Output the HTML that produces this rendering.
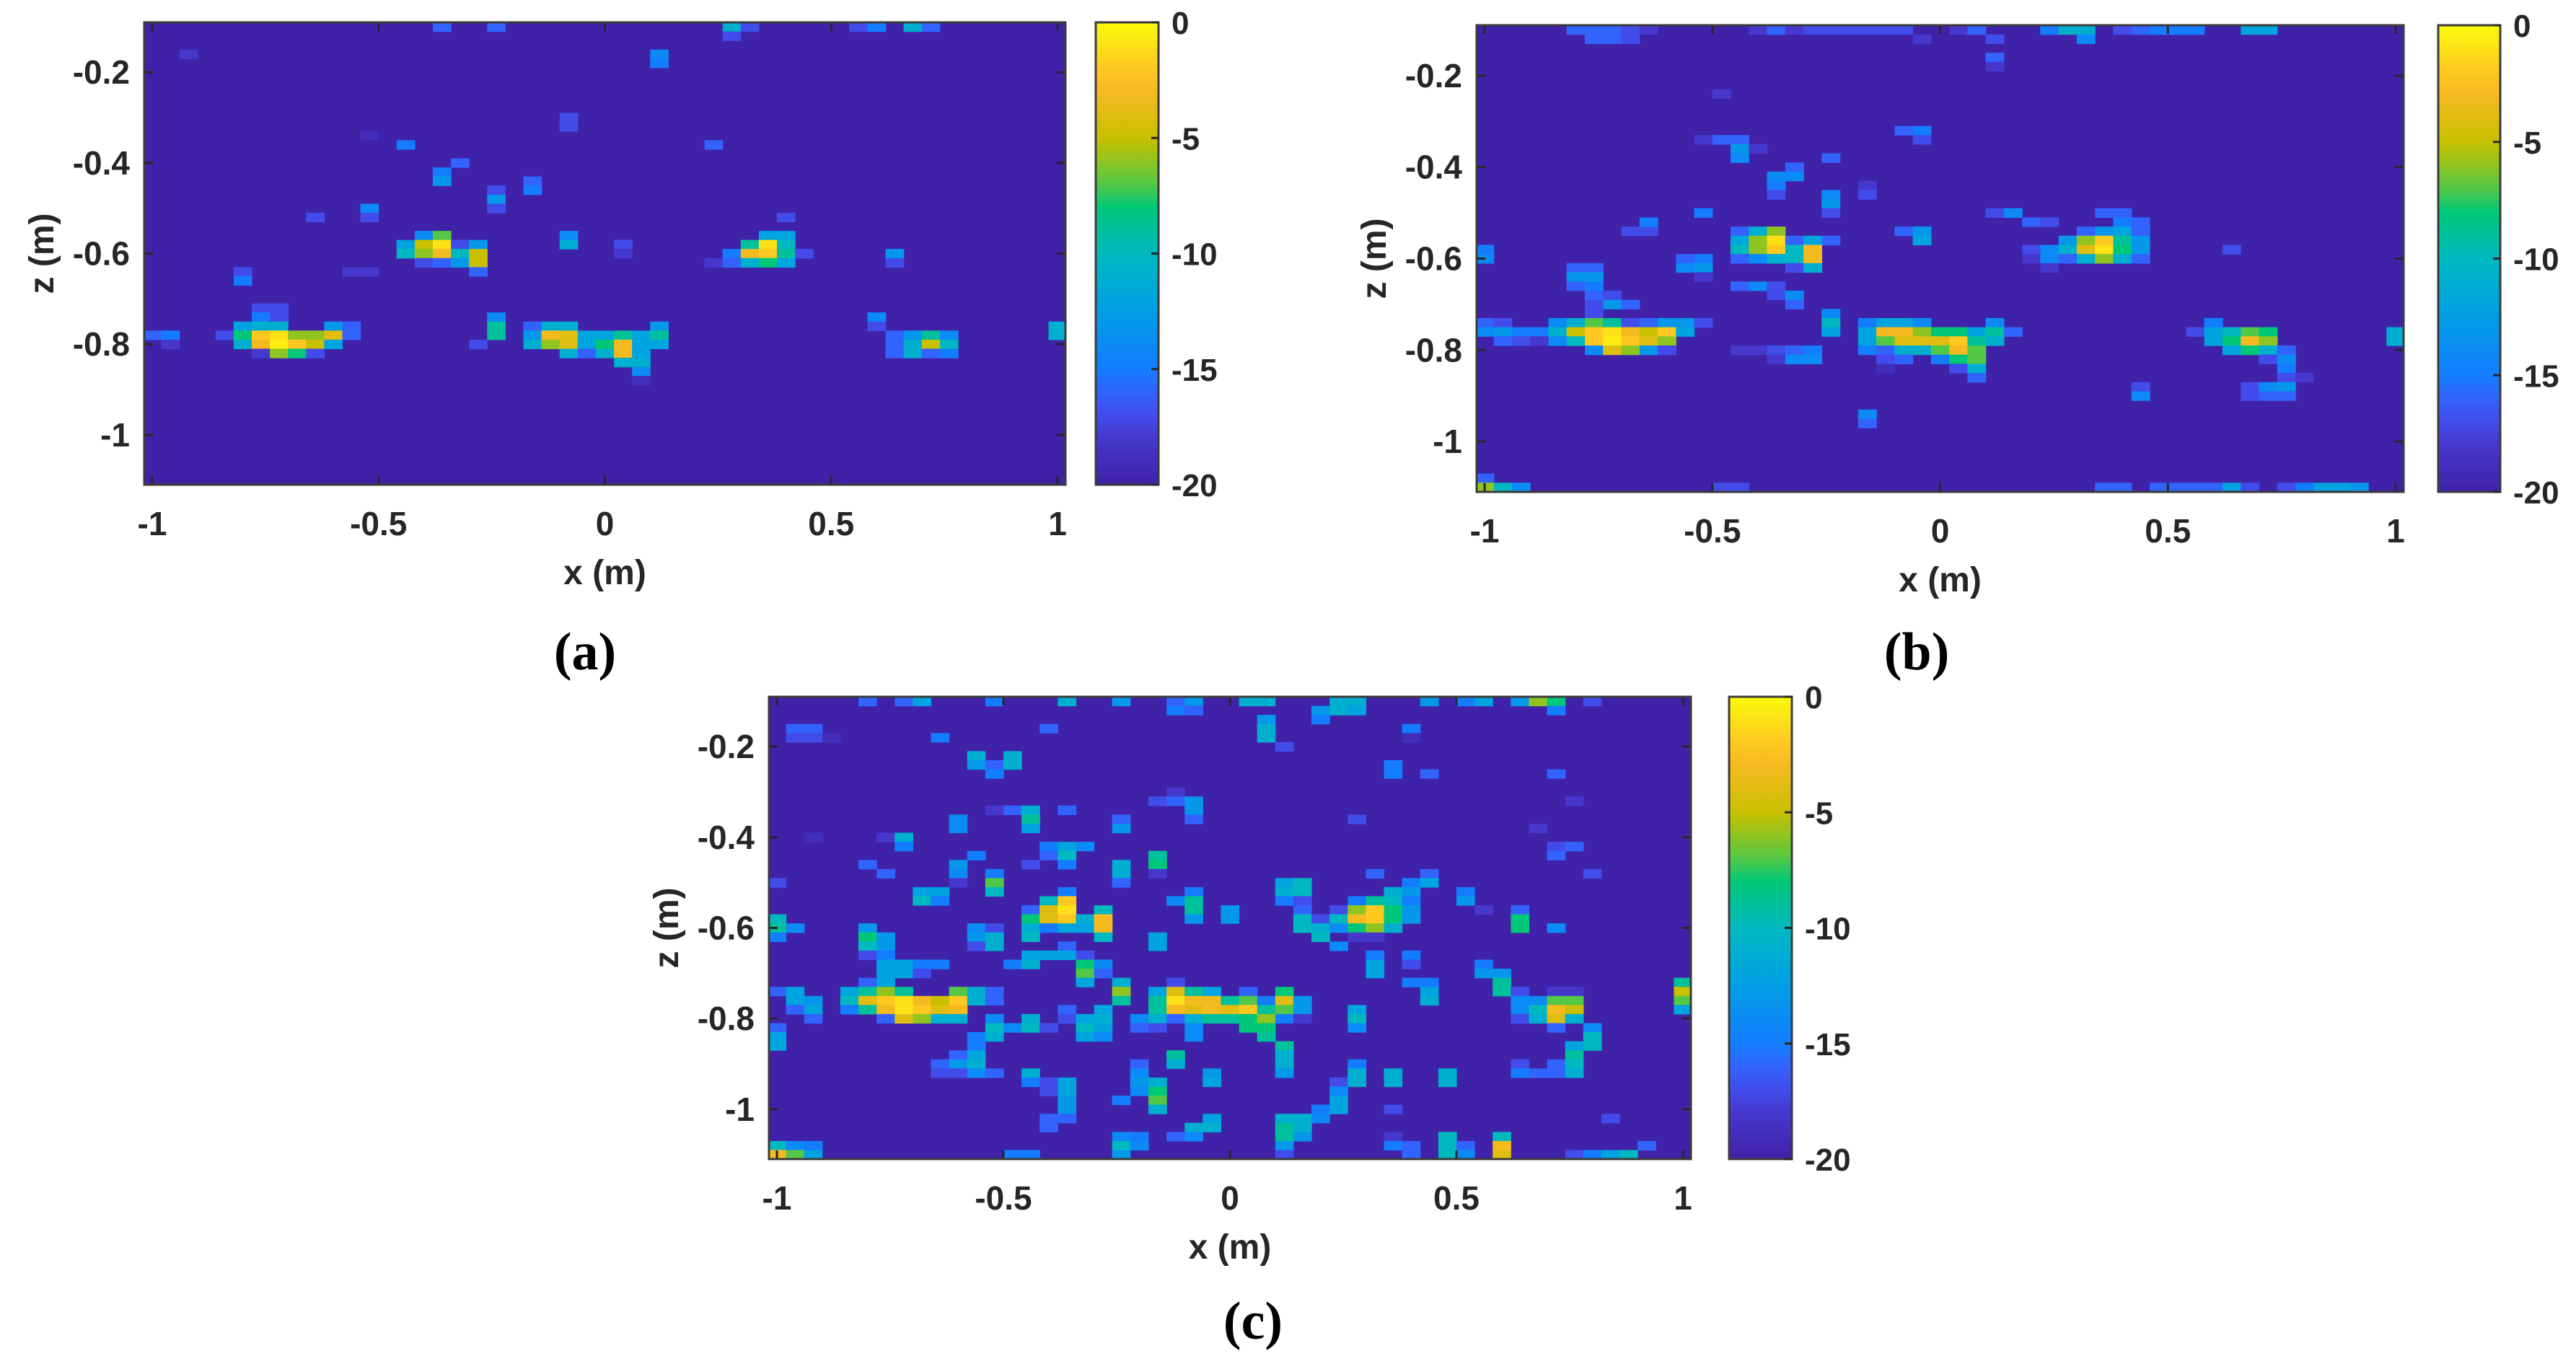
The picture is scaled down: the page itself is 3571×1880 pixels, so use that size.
<!DOCTYPE html>
<html><head><meta charset="utf-8">
<style>
html,body{margin:0;padding:0;background:#fff;}
svg{display:block;}
text{font-family:"Liberation Sans",Arial,sans-serif;font-weight:bold;fill:#262626;}
.cap{font-family:"Liberation Serif",serif;font-weight:bold;fill:#000;}
</style></head>
<body>
<svg id="fig" xmlns="http://www.w3.org/2000/svg" width="3571" height="1880" viewBox="0 0 3571 1880"></svg>
<script>
// ---- data: cells as [column bin, row bin, value dB] ; bin width 0.04 m in x, 0.02 m in z
const xTicks = [-1, -0.5, 0, 0.5, 1];
const xTickLabels = ["-1", "-0.5", "0", "0.5", "1"];
const zTicks = [-0.2, -0.4, -0.6, -0.8, -1];
const zTickLabels = ["-0.2", "-0.4", "-0.6", "-0.8", "-1"];
const cbTicks = [0, -5, -10, -15, -20];
const cbTickLabels = ["0", "-5", "-10", "-15", "-20"];
const panelCaptions = ["(a)", "(b)", "(c)"];

const cellsA = [
[16,0,-16],[19,0,-16],[32,0,-11],[33,0,-17],[32,1,-17],[39,0,-17],[40,0,-15],[42,0,-11],[43,0,-16],
[2,3,-18],[28,3,-14],[28,4,-15],[23,10,-17],[23,11,-17],[12,12,-19],[14,13,-15],[31,13,-16],
[17,15,-16],[16,16,-15],[16,17,-13],[21,17,-16],[21,18,-15],[19,18,-17],[19,19,-13],[19,20,-17],
[12,20,-14],[12,21,-17],[9,21,-17],
[14,24,-12],[15,23,-14],[16,23,-7],[15,24,-5],[16,24,-1],[17,24,-17],[18,24,-13],[14,25,-10],[15,25,-6],[16,25,-3],[17,25,-10],[18,25,-5],
[15,26,-17],[16,26,-16],[17,26,-13],[18,26,-5],[18,27,-16],
[23,23,-14],[23,24,-11],[26,24,-17],[26,25,-18],
[35,21,-17],[34,23,-12],[35,23,-12],[33,24,-9],[34,24,-1],[35,24,-10],[32,25,-15],[33,25,-3],[34,25,-2],[35,25,-9],[36,25,-17],
[31,26,-18],[32,26,-16],[33,26,-11],[34,26,-8],[35,26,-12],
[41,25,-13],[41,26,-17],[5,27,-17],[5,28,-15],[11,27,-18],[12,27,-18],
[6,31,-17],[7,31,-17],[6,32,-15],[7,32,-17],[5,33,-12],[6,33,-11],[7,33,-11],[10,33,-13],[11,33,-16],
[0,34,-16],[1,34,-15],[4,34,-17],[5,34,-8],[6,34,-2],[7,34,-1],[8,34,-6],[9,34,-6],[10,34,-4],[11,34,-16],
[1,35,-18],[5,35,-11],[6,35,-3],[7,35,-0.5],[8,35,-2],[9,35,-5],[10,35,-12],[6,36,-18],[7,36,-6],[8,36,-8],[9,36,-17],
[19,32,-14],[19,33,-9],[19,34,-9],[18,35,-17],
[21,33,-16],[22,33,-11],[23,33,-11],[28,33,-13],
[21,34,-13],[22,34,-3],[23,34,-4],[24,34,-12],[25,34,-12],[26,34,-9],[27,34,-12],[28,34,-9],
[21,35,-11],[22,35,-6],[23,35,-4],[24,35,-12],[25,35,-8],[26,35,-3],[27,35,-12],[28,35,-12],
[23,36,-11],[24,36,-16],[25,36,-11],[26,36,-3],[27,36,-12],[26,37,-11],[27,37,-11],[27,38,-14],[27,39,-19],
[40,32,-14],[40,33,-17],[41,34,-16],[42,34,-13],[43,34,-9],[44,34,-14],[41,35,-16],[42,35,-11],[43,35,-5],[44,35,-10],
[41,36,-16],[42,36,-11],[43,36,-16],[44,36,-15],[50,33,-11],[50,34,-11]
];

const cellsB = [
[5,0,-16],[6,0,-16],[7,0,-16],[8,0,-17],[9,0,-18],[15,0,-18],[16,0,-16],[17,0,-18],[18,0,-17],[19,0,-17],[20,0,-17],[21,0,-17],[22,0,-17],[23,0,-17],
[26,0,-18],[27,0,-16],[31,0,-15],[32,0,-11],[33,0,-11],[35,0,-17],[36,0,-16],[37,0,-15],[38,0,-15],[39,0,-15],[42,0,-12],[43,0,-12],
[6,1,-16],[7,1,-16],[8,1,-17],[24,1,-18],[28,1,-17],[33,1,-14],[28,3,-16],[28,4,-18],[13,7,-18],
[23,11,-16],[24,11,-15],[24,12,-17],[12,12,-18],[13,12,-16],[14,12,-16],[14,13,-13],[15,13,-18],[14,14,-14],[19,14,-16],
[17,15,-16],[16,16,-14],[17,16,-14],[16,17,-15],[16,18,-17],[21,17,-18],[21,18,-17],[19,18,-14],[19,19,-13],[19,20,-17],
[12,20,-15],[28,20,-17],[29,20,-14],[30,21,-16],[31,21,-17],
[34,20,-16],[35,20,-16],[35,21,-15],[36,21,-16],[33,22,-16],[34,22,-13],[35,22,-12],[36,22,-16],
[32,23,-13],[33,23,-6],[34,23,-2],[35,23,-9],[36,23,-13],
[30,24,-17],[31,24,-14],[32,24,-11],[33,24,-4],[34,24,-1],[35,24,-8],[36,24,-13],
[30,25,-18],[31,25,-14],[32,25,-16],[33,25,-11],[34,25,-6],[35,25,-11],[36,25,-16],[31,26,-18],
[8,22,-17],[9,22,-17],[9,21,-15],
[14,22,-16],[15,22,-11],[16,22,-6],[14,23,-12],[15,23,-6],[16,23,-1],[17,23,-16],[18,23,-12],[19,23,-16],
[14,24,-10],[15,24,-6],[16,24,-2],[17,24,-10],[18,24,-3],[14,25,-16],[15,25,-14],[16,25,-11],[17,25,-10],[18,25,-3],
[17,26,-17],[18,26,-11],[23,22,-16],[24,22,-13],[24,23,-12],[0,24,-15],[0,25,-14],
[11,25,-16],[12,25,-15],[11,26,-14],[12,26,-13],[12,27,-18],[41,24,-17],
[5,26,-16],[6,26,-16],[5,27,-13],[6,27,-13],[5,28,-16],[6,28,-15],[6,29,-16],[7,29,-17],[6,30,-17],[7,30,-13],[8,30,-16],[6,31,-17],
[14,28,-16],[15,28,-14],[16,28,-17],[16,29,-17],[17,29,-14],[17,30,-16],[19,31,-14],[19,32,-10],[19,33,-12],[40,32,-15],[40,33,-14],
[0,32,-16],[1,32,-17],[4,32,-14],[5,32,-11],[6,32,-7],[7,32,-9],[8,32,-17],[9,32,-16],[10,32,-13],[11,32,-13],[12,32,-17],
[0,33,-14],[1,33,-13],[2,33,-15],[3,33,-15],[4,33,-11],[5,33,-5],[6,33,-2],[7,33,-1],[8,33,-3],[9,33,-5],[10,33,-2],[11,33,-12],
[1,34,-16],[2,34,-17],[3,34,-18],[4,34,-14],[5,34,-10],[6,34,-2],[7,34,-0.5],[8,34,-2],[9,34,-4],[10,34,-6],
[6,35,-14],[7,35,-4],[8,35,-6],[9,35,-13],[10,35,-17],
[21,32,-15],[22,32,-12],[23,32,-12],[24,32,-14],[28,32,-14],
[21,33,-12],[22,33,-3],[23,33,-3],[24,33,-6],[25,33,-8],[26,33,-8],[27,33,-12],[28,33,-9],[29,33,-16],
[21,34,-12],[22,34,-7],[23,34,-4],[24,34,-4],[25,34,-4],[26,34,-2],[27,34,-9],[28,34,-11],
[21,35,-15],[22,35,-16],[23,35,-11],[24,35,-11],[25,35,-7],[26,35,-3],[27,35,-7],
[22,36,-17],[23,36,-16],[25,36,-15],[26,36,-8],[27,36,-7],[22,37,-19],[26,37,-17],[27,37,-11],[27,38,-16],
[14,35,-18],[15,35,-18],[16,35,-17],[17,35,-16],[18,35,-15],[16,36,-18],[17,36,-14],[18,36,-14],
[39,33,-17],[40,33,-12],[41,33,-10],[42,33,-7],[43,33,-8],[40,34,-12],[41,34,-8],[42,34,-3],[43,34,-6],
[41,35,-12],[42,35,-8],[43,35,-11],[44,35,-16],[43,36,-17],[44,36,-14],[44,37,-15],[44,38,-17],[45,38,-18],
[50,33,-11],[50,34,-11],[36,39,-17],[36,40,-14],[42,39,-17],[43,39,-14],[44,39,-13],[42,40,-17],[43,40,-16],[44,40,-16],
[21,42,-14],[21,43,-16],[0,49,-16],[0,50,-6],[1,50,-10],[2,50,-14],[13,50,-17],[14,50,-17],[34,50,-16],[35,50,-16],
[37,50,-16],[38,50,-16],[39,50,-16],[40,50,-16],[41,50,-12],[42,50,-17],[44,50,-17],[45,50,-15],[46,50,-12],[47,50,-12],[48,50,-13]
];

const cellsC = [
[5,0,-16],[7,0,-16],[8,0,-12],[12,0,-15],[16,0,-11],[19,0,-13],[22,0,-16],[23,0,-13],[26,0,-11],[27,0,-11],[31,0,-11],[32,0,-11],[36,0,-13],[38,0,-15],[39,0,-12],[41,0,-13],[42,0,-6],[43,0,-8],[45,0,-17],
[22,1,-15],[23,1,-16],[30,1,-13],[31,1,-11],[32,1,-12],[43,1,-15],[27,2,-13],[30,2,-15],
[1,3,-16],[2,3,-16],[15,3,-16],[27,3,-11],[35,3,-15],[1,4,-17],[2,4,-17],[3,4,-19],[9,4,-15],[27,4,-11],[35,4,-19],[28,5,-17],
[11,6,-11],[13,6,-11],[11,7,-13],[12,7,-16],[13,7,-11],[12,8,-15],[34,7,-15],[34,8,-15],[36,8,-16],[43,8,-16],
[22,10,-18],[21,11,-17],[22,11,-16],[23,11,-13],[44,11,-18],[12,12,-18],[13,12,-16],[14,12,-11],[16,12,-16],[23,12,-13],
[10,13,-14],[14,13,-9],[19,13,-16],[23,13,-16],[32,13,-17],[10,14,-14],[14,14,-12],[19,14,-13],[42,14,-18],
[2,15,-19],[6,15,-18],[7,15,-11],[7,16,-15],[15,16,-15],[16,16,-12],[17,16,-14],[43,16,-17],[44,16,-16],
[11,17,-15],[15,17,-16],[16,17,-10],[21,17,-9],[43,17,-16],
[5,18,-16],[10,18,-13],[14,18,-17],[16,18,-15],[19,18,-11],[21,18,-8],
[6,19,-16],[10,19,-14],[12,19,-15],[19,19,-11],[21,19,-18],[33,19,-16],[36,19,-16],[45,19,-17],
[0,20,-17],[10,20,-18],[12,20,-7],[19,20,-16],[28,20,-12],[29,20,-10],[35,20,-15],[36,20,-12],
[8,21,-12],[9,21,-12],[12,21,-10],[16,21,-15],[23,21,-15],[28,21,-11],[29,21,-10],[34,21,-11],[35,21,-13],[38,21,-15],
[8,22,-10],[9,22,-15],[15,22,-10],[16,22,-2],[22,22,-14],[23,22,-9],[28,22,-15],[29,22,-17],[32,22,-15],[33,22,-9],[34,22,-10],[35,22,-15],[38,22,-13],
[14,23,-16],[15,23,-4],[16,23,-1],[18,23,-10],[23,23,-9],[25,23,-13],[29,23,-16],[31,23,-17],[32,23,-6],[33,23,-2],[34,23,-8],[35,23,-13],[39,23,-18],[41,23,-16],
[0,24,-10],[14,24,-8],[15,24,-4],[16,24,-2],[17,24,-11],[18,24,-3],[23,24,-13],[25,24,-13],[29,24,-10],[30,24,-17],[31,24,-10],[32,24,-3],[33,24,-2],[34,24,-8],[35,24,-13],[41,24,-8],
[0,25,-9],[1,25,-14],[5,25,-13],[11,25,-14],[12,25,-17],[14,25,-11],[15,25,-15],[16,25,-12],[17,25,-12],[18,25,-3],[29,25,-10],[30,25,-11],[31,25,-14],[32,25,-8],[33,25,-6],[34,25,-11],[41,25,-8],[43,25,-14],
[0,26,-15],[5,26,-8],[6,26,-13],[11,26,-13],[12,26,-11],[14,26,-10],[18,26,-10],[21,26,-12],[30,26,-10],[32,26,-18],[33,26,-18],
[5,27,-10],[6,27,-13],[11,27,-17],[12,27,-11],[16,27,-16],[21,27,-12],[31,27,-14],
[5,28,-17],[6,28,-15],[14,28,-12],[15,28,-12],[16,28,-12],[17,28,-17],[33,28,-15],[35,28,-15],
[6,29,-12],[7,29,-12],[8,29,-15],[9,29,-15],[13,29,-15],[14,29,-11],[17,29,-8],[18,29,-14],[33,29,-12],[35,29,-17],[39,29,-15],
[6,30,-12],[7,30,-12],[8,30,-17],[17,30,-7],[18,30,-16],[33,30,-12],[39,30,-13],[40,30,-13],
[5,31,-16],[6,31,-12],[17,31,-12],[19,31,-11],[22,31,-17],[35,31,-15],[36,31,-15],[40,31,-9],[50,31,-9],
[0,32,-16],[1,32,-12],[4,32,-12],[5,32,-9],[6,32,-6],[7,32,-9],[10,32,-7],[11,32,-11],[12,32,-16],[19,32,-6],[21,32,-12],[22,32,-4],[23,32,-9],[24,32,-12],[26,32,-16],[28,32,-8],[36,32,-12],[40,32,-9],[41,32,-17],[43,32,-18],[44,32,-18],[50,32,-5],
[1,33,-12],[2,33,-13],[4,33,-10],[5,33,-4],[6,33,-2],[7,33,-1],[8,33,-3],[9,33,-5],[10,33,-2],[11,33,-11],[12,33,-16],[19,33,-9],[21,33,-9],[22,33,-1],[23,33,-3],[24,33,-3],[25,33,-9],[26,33,-7],[27,33,-15],[28,33,-4],[29,33,-13],[36,33,-11],[41,33,-14],[42,33,-14],[43,33,-7],[44,33,-7],[50,33,-7],
[1,34,-16],[2,34,-12],[4,34,-15],[5,34,-9],[6,34,-3],[7,34,-1],[8,34,-2],[9,34,-4],[10,34,-3],[16,34,-16],[18,34,-12],[21,34,-9],[22,34,-3],[23,34,-4],[24,34,-3],[25,34,-4],[26,34,-2],[27,34,-9],[28,34,-7],[29,34,-13],[32,34,-12],[41,34,-14],[42,34,-10],[43,34,-3],[44,34,-5],[50,34,-12],
[2,35,-16],[6,35,-16],[7,35,-4],[8,35,-6],[9,35,-11],[10,35,-11],[12,35,-14],[14,35,-11],[16,35,-17],[17,35,-12],[18,35,-11],[20,35,-14],[21,35,-11],[22,35,-16],[23,35,-11],[24,35,-9],[25,35,-9],[26,35,-8],[27,35,-6],[28,35,-15],[29,35,-18],[32,35,-10],[41,35,-17],[42,35,-11],[43,35,-4],[44,35,-11],
[0,36,-16],[12,36,-10],[13,36,-14],[14,36,-10],[15,36,-17],[17,36,-10],[18,36,-12],[20,36,-16],[21,36,-17],[23,36,-14],[26,36,-8],[27,36,-8],[32,36,-14],[43,36,-16],[45,36,-14],
[0,37,-12],[11,37,-15],[12,37,-11],[17,37,-12],[18,37,-14],[23,37,-14],[27,37,-9],[45,37,-10],
[0,38,-12],[11,38,-15],[28,38,-9],[44,38,-12],[45,38,-10],
[10,39,-16],[11,39,-12],[22,39,-9],[28,39,-11],[44,39,-9],
[9,40,-16],[10,40,-13],[11,40,-11],[20,40,-16],[22,40,-11],[28,40,-11],[32,40,-15],[41,40,-17],[43,40,-16],[44,40,-10],
[9,41,-17],[10,41,-17],[11,41,-14],[12,41,-16],[14,41,-11],[20,41,-14],[24,41,-13],[28,41,-13],[32,41,-11],[34,41,-11],[37,41,-11],[41,41,-15],[42,41,-16],[43,41,-16],[44,41,-11],
[14,42,-15],[15,42,-17],[16,42,-12],[20,42,-13],[21,42,-11],[24,42,-12],[31,42,-17],[32,42,-11],[34,42,-11],[37,42,-11],
[15,43,-17],[16,43,-12],[20,43,-14],[21,43,-8],[31,43,-14],[16,44,-13],[19,44,-15],[21,44,-7],[31,44,-12],
[16,45,-13],[21,45,-11],[30,45,-15],[31,45,-12],[34,45,-17],
[15,46,-16],[16,46,-16],[24,46,-12],[28,46,-11],[29,46,-11],[30,46,-14],[46,46,-17],
[15,47,-16],[23,47,-11],[24,47,-11],[28,47,-9],[29,47,-11],
[19,48,-14],[20,48,-15],[22,48,-16],[23,48,-14],[28,48,-9],[29,48,-13],[34,48,-18],[37,48,-10],[40,48,-10],
[0,49,-10],[1,49,-14],[2,49,-15],[19,49,-10],[20,49,-14],[28,49,-13],[34,49,-15],[35,49,-16],[37,49,-10],[38,49,-16],[40,49,-3],[48,49,-16],
[0,50,-3],[1,50,-7],[2,50,-12],[13,50,-15],[14,50,-15],[19,50,-13],[28,50,-17],[35,50,-16],[37,50,-10],[38,50,-14],[40,50,-4],[44,50,-17],[45,50,-15],[46,50,-12],[47,50,-10]
];

// ---- style / layout
const NS = "http://www.w3.org/2000/svg";
const svg = document.getElementById('fig');
const X0 = -1.02, DX = 0.04, Z0 = -0.09, DZ = 0.02, XMIN = -1.0175, XMAX = 1.0175, ZTOP = -0.09, ZBOT = -1.11;
const VMIN = -20, VMAX = 0;
const stops = [[0,[64,34,168]],[0.1,[70,55,205]],[0.18,[62,88,252]],[0.25,[20,125,255]],[0.38,[0,160,228]],[0.5,[0,185,192]],[0.6,[0,200,120]],[0.66,[100,200,60]],[0.75,[200,192,0]],[0.87,[255,185,40]],[1,[250,250,10]]];
function color(v){
  let t = Math.max(0, Math.min(1, (v - VMIN) / (VMAX - VMIN)));
  for (let i = 1; i < stops.length; i++) {
    if (t <= stops[i][0]) {
      const a = stops[i-1], b = stops[i], f = (t - a[0]) / (b[0] - a[0]);
      const c = a[1].map((x, k) => Math.round(x + (b[1][k] - x) * f));
      return `rgb(${c[0]},${c[1]},${c[2]})`;
    }
  }
  return 'rgb(250,250,10)';
}
function mk(tag, attrs, parent){
  const e = document.createElementNS(NS, tag);
  for (const k in attrs) e.setAttribute(k, attrs[k]);
  (parent || svg).appendChild(e);
  return e;
}
const panels = [
  {box:{l:200,r:1477,t:31,b:672}, cb:{l:1519,r:1606}, cells:cellsA, cap:[811,928]},
  {box:{l:2047,r:3332,t:35,b:682}, cb:{l:3380,r:3466}, cells:cellsB, cap:[2657,928]},
  {box:{l:1066,r:2344,t:966,b:1607}, cb:{l:2397,r:2484}, cells:cellsC, cap:[1737,1856]}
];
panels.forEach((p, pi) => {
  const B = p.box;
  const g = mk('g', {});
  
  
  const xs = x => B.l + (x - XMIN) / (XMAX - XMIN) * (B.r - B.l);
  const zs = z => B.t + (ZTOP - z) / (ZTOP - ZBOT) * (B.b - B.t);
  const clip = 'clip' + pi;
  const cp = mk('clipPath', {id: clip}, g);
  mk('rect', {x:B.l, y:B.t, width:B.r-B.l, height:B.b-B.t}, cp);
  const bg = mk('rect', {x:B.l, y:B.t, width:B.r-B.l, height:B.b-B.t, fill:color(VMIN)}, g);
  
  
  const cg = mk('g', {'clip-path':`url(#${clip})`}, g);
  p.cells.forEach(c => {
    const x1 = X0 + c[0] * DX, z1 = Z0 - c[1] * DZ;
    const px = xs(x1), py = zs(z1);
    const w = xs(x1 + DX) - px, h = zs(z1 - DZ) - py;
    const r = mk('rect', {x:px.toFixed(1), y:py.toFixed(1), width:(w+0.6).toFixed(1), height:(h+0.6).toFixed(1), fill:color(c[2])}, cg);
    
    
  });
  xTicks.forEach((x, i) => {
    const px = xs(x);
    mk('line', {x1:px, x2:px, y1:B.b, y2:B.b-12, stroke:'#262626', 'stroke-width':3}, g);
    mk('line', {x1:px, x2:px, y1:B.t, y2:B.t+12, stroke:'#262626', 'stroke-width':3}, g);
    const t = mk('text', {x:px, y:B.b+70, 'font-size':46, 'text-anchor':'middle'}, g);
    t.textContent = xTickLabels[i];
    
    
  });
  zTicks.forEach((z, i) => {
    const py = zs(z);
    mk('line', {x1:B.l, x2:B.l+12, y1:py, y2:py, stroke:'#262626', 'stroke-width':3}, g);
    mk('line', {x1:B.r, x2:B.r-12, y1:py, y2:py, stroke:'#262626', 'stroke-width':3}, g);
    const t = mk('text', {x:B.l-20, y:py+16, 'font-size':46, 'text-anchor':'end'}, g);
    t.textContent = zTickLabels[i];
    
    
  });
  const frame = mk('rect', {x:B.l, y:B.t, width:B.r-B.l, height:B.b-B.t, fill:'none', stroke:'#3a3a3a', 'stroke-width':3}, g);
  
  
  const xl = mk('text', {x:(B.l+B.r)/2, y:B.b+138, 'font-size':48, 'text-anchor':'middle'}, g);
  xl.textContent = 'x (m)';
  
  
  const cy = (B.t+B.b)/2, cx = B.l-142;
  const zl = mk('text', {x:cx, y:cy+16, 'font-size':48, 'text-anchor':'middle', transform:`rotate(-90 ${cx} ${cy})`}, g);
  zl.textContent = 'z (m)';
  
  
  const gid = 'grad' + pi;
  const lg = mk('linearGradient', {id:gid, x1:0, y1:1, x2:0, y2:0}, g);
  for (let k = 0; k <= 20; k++) mk('stop', {offset:(k/20), 'stop-color':color(VMIN + k)}, lg);
  const cb = mk('rect', {x:p.cb.l, y:B.t, width:p.cb.r-p.cb.l, height:B.b-B.t, fill:`url(#${gid})`, stroke:'#3a3a3a', 'stroke-width':3}, g);
  
  
  const cs = v => B.t + (VMAX - v) / (VMAX - VMIN) * (B.b - B.t);
  cbTicks.forEach((v, i) => {
    const py = cs(v);
    mk('line', {x1:p.cb.r, x2:p.cb.r-10, y1:py, y2:py, stroke:'#262626', 'stroke-width':3}, g);
    const t = mk('text', {x:p.cb.r+18, y:py+16, 'font-size':44}, g);
    t.textContent = cbTickLabels[i];
    
    
  });
  const cap = mk('text', {x:p.cap[0], y:p.cap[1], 'font-size':74, 'text-anchor':'middle', class:'cap'}, g);
  cap.textContent = panelCaptions[pi];
  
  
});
</script>
</body></html>
